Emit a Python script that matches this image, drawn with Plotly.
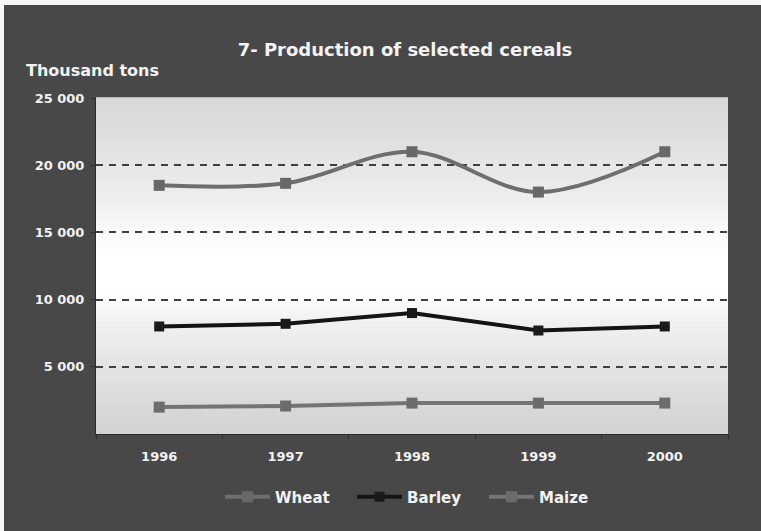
import plotly.graph_objects as go

# ---- data ----
years = ["1996", "1997", "1998", "1999", "2000"]
wheat = [18500, 18650, 21000, 18000, 21000]
barley = [8000, 8200, 9000, 7700, 8000]
maize = [2000, 2080, 2300, 2300, 2300]
y_tickvals = [5000, 10000, 15000, 20000, 25000]
y_ticktext = ["5 000", "10 000", "15 000", "20 000", "25 000"]

title_text = "7- Production of selected cereals"
unit_text = "Thousand tons"

# ---- layout geometry (px) ----
W, H = 761, 531
L, R, T, B = 96, 33, 98, 97
PW, PH = W - L - R, H - T - B

FONT = "DejaVu Sans"
TXT = "#f2f2f2"
BG = "#484848"

fig = go.Figure()

fig.add_trace(go.Scatter(
    x=years, y=wheat, name="Wheat", mode="lines+markers",
    line=dict(color="#6e6e6e", width=4, shape="spline", smoothing=1.0),
    marker=dict(symbol="square", size=11, color="#686868"),
))
fig.add_trace(go.Scatter(
    x=years, y=barley, name="Barley", mode="lines+markers",
    line=dict(color="#141414", width=4),
    marker=dict(symbol="square", size=10, color="#1a1a1a"),
))
fig.add_trace(go.Scatter(
    x=years, y=maize, name="Maize", mode="lines+markers",
    line=dict(color="#747474", width=4),
    marker=dict(symbol="square", size=11, color="#6c6c6c"),
))

# plot-area vertical gradient (style only)
stops = [(0.0, 0xd2), (0.12, 0xdc), (0.24, 0xe8), (0.36, 0xf4), (0.42, 0xff),
         (0.54, 0xff), (0.60, 0xfa), (0.68, 0xf0), (0.80, 0xe6), (0.88, 0xdf), (1.0, 0xd8)]
def gray_at(t):
    for (t0, g0), (t1, g1) in zip(stops[:-1], stops[1:]):
        if t0 <= t <= t1:
            f = (t - t0) / (t1 - t0) if t1 > t0 else 0
            return int(round(g0 + (g1 - g0) * f))
    return stops[-1][1]

shapes = []
NB = 60
for i in range(NB):
    t0, t1 = i / NB, (i + 1) / NB
    g = gray_at((t0 + t1) / 2)
    c = "#%02x%02x%02x" % (g, g, g)
    shapes.append(dict(type="rect", xref="paper", yref="paper", x0=0, x1=1,
                       y0=t0, y1=t1 + 0.002, fillcolor=c, line=dict(width=0), layer="below"))

def px_x(px):
    return (px - L) / PW
def px_y(py):
    return (H - B - py) / PH

# white scan border strips at top and left of the page
shapes.append(dict(type="rect", xref="paper", yref="paper", x0=px_x(-2), x1=px_x(W + 2),
                   y0=px_y(5), y1=px_y(-2), fillcolor="#f6f6f6", line=dict(width=0), layer="below"))
shapes.append(dict(type="rect", xref="paper", yref="paper", x0=px_x(-2), x1=px_x(4),
                   y0=px_y(H + 2), y1=px_y(-2), fillcolor="#f6f6f6", line=dict(width=0), layer="below"))

fig.update_layout(
    width=W, height=H,
    margin=dict(l=L, r=R, t=T, b=B),
    paper_bgcolor=BG,
    plot_bgcolor="#f4f4f4",
    shapes=shapes,
    showlegend=True,
    title=dict(text=title_text, x=405 / W, xref="container", xanchor="center",
               y=1 - 50 / H, yref="container", yanchor="middle",
               font=dict(family=FONT, size=18, color=TXT, weight="bold")),
    legend=dict(orientation="h", x=px_x(220), xanchor="left", y=px_y(497), yanchor="middle",
                font=dict(family=FONT, size=15, color=TXT, weight="bold"),
                bgcolor="rgba(0,0,0,0)", itemwidth=45,
                entrywidth=72, entrywidthmode="pixels"),
    annotations=[dict(text=unit_text, xref="paper", yref="paper", x=px_x(24), y=px_y(70),
                      xanchor="left", yanchor="middle", showarrow=False,
                      font=dict(family=FONT, size=16, color=TXT, weight="bold"))],
)

fig.update_xaxes(
    type="category", range=[-0.5, 4.5],
    showgrid=False, zeroline=False,
    showline=True, linecolor="#2a2a2a", linewidth=1,
    ticks="outside", ticklen=4, tickcolor="#2a2a2a", tickson="boundaries",
    ticklabelstandoff=10,
    tickfont=dict(family=FONT, size=13, color=TXT, weight="bold"),
)
fig.update_yaxes(
    range=[0, 25000], tickvals=y_tickvals, ticktext=y_ticktext,
    showgrid=True, gridcolor="#404040", gridwidth=1.6, griddash="7px,6px",
    zeroline=False,
    showline=True, linecolor="#2a2a2a", linewidth=1,
    ticks="outside", ticklen=4, tickcolor="#2a2a2a",
    ticklabelstandoff=4,
    tickfont=dict(family=FONT, size=13, color=TXT, weight="bold"),
)

fig.write_html("out.html", config={"displayModeBar": False},
               post_script="document.body.style.margin='0';document.body.style.padding='0';")
